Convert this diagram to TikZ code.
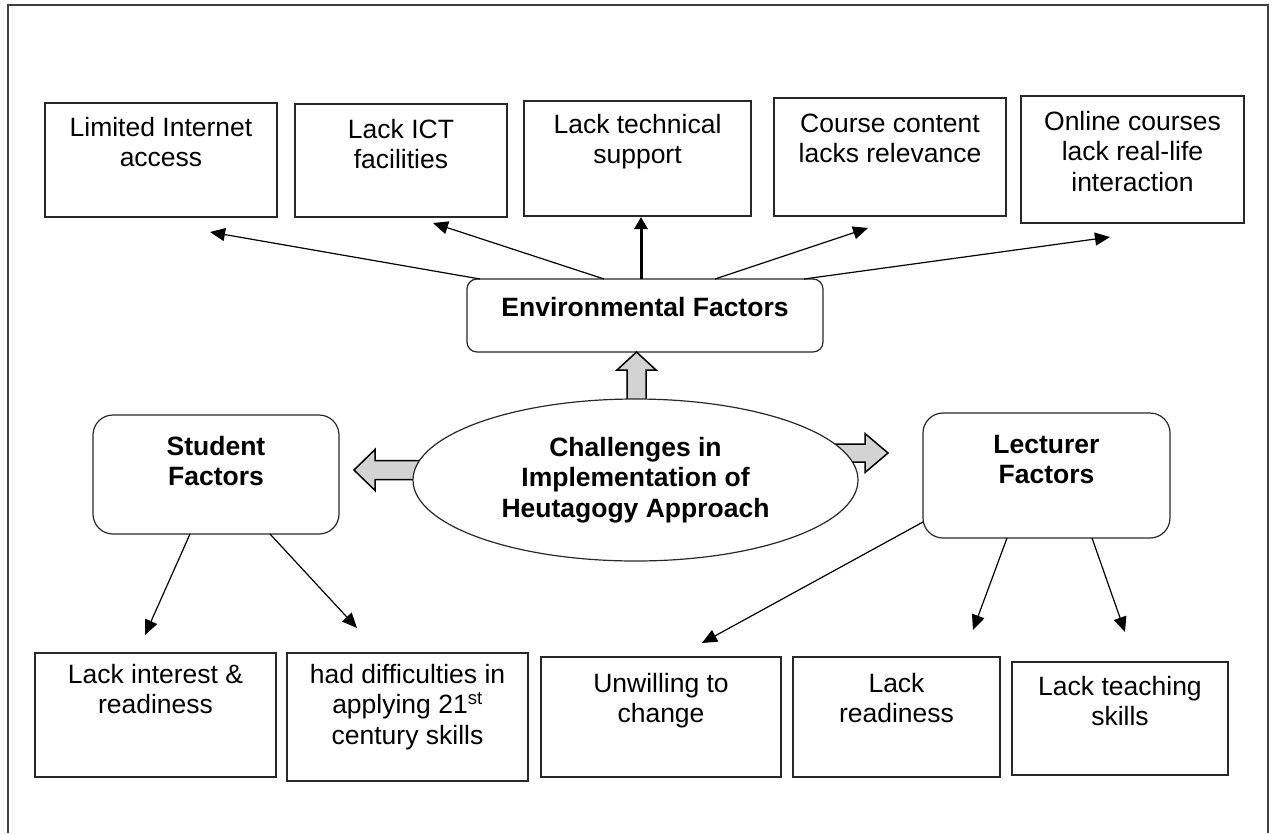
\documentclass[tikz,border=0pt]{standalone}
\usepackage{fontspec}
\setmainfont{Liberation Sans}
\usetikzlibrary{shapes.geometric,arrows.meta,calc}
\definecolor{arrowgray}{RGB}{211,211,211}
\definecolor{lineblk}{RGB}{40,40,40}
\newcommand{\bxt}[4]{\parbox[c][#2pt][t]{#1pt}{\centering\rule{0pt}{#3pt}#4\par}}
\begin{document}
\begin{tikzpicture}[x=1pt,y=-1pt,
  box/.style={draw=lineblk, line width=1.2pt, inner sep=0pt, outer sep=0pt, anchor=north west,
    font=\fontsize{26.5}{30.5}\selectfont},
  rbox/.style={box, rounded corners=20pt, font=\fontsize{26.5}{30.5}\selectfont\bfseries},
  conn/.style={draw=black, line width=1.2pt, -{Triangle[length=15pt,width=13pt]}},
  thickconn/.style={draw=black, line width=3pt, -{Triangle[length=12pt,width=13pt]}},
  blockarrow/.style={draw=black, line width=1.5pt, fill=arrowgray, line join=miter},
  frame/.style={draw=black!75, line width=1.5pt}]
\useasboundingbox (0,0) rectangle (1277,833);
\draw[frame] (8,833) -- (8,5) -- (1268,5) -- (1268,833);

% top boxes
\node[box] (t1) at (45,103) {\bxt{232}{114}{33}{Limited Internet\\access}};
\node[box] (t2) at (295,104) {\bxt{212}{113}{34}{Lack ICT\\facilities}};
\node[box] (t3) at (524,101) {\bxt{227}{115}{32}{Lack technical\\support}};
\node[box] (t4) at (774,98) {\bxt{232}{118}{34}{Course content\\lacks relevance}};
\node[box] (t5) at (1021,96) {\bxt{223}{127}{34}{Online courses\\lack real-life\\interaction}};

% factor boxes
\node[rbox, rounded corners=10pt] (env) at (467,279) {\bxt{356}{73}{37}{Environmental Factors}};
\node[rbox] (stu) at (93,415) {\bxt{246}{119}{40}{Student\\Factors}};
\node[rbox] (lec) at (923,413) {\bxt{247}{125}{40}{Lecturer\\Factors}};

% bottom boxes
\node[box] (b1) at (35,653) {\bxt{241}{124}{30}{Lack interest \&\\readiness}};
\node[box] (b2) at (287,653) {\bxt{241}{128}{30}{had difficulties in\\applying 21\textsuperscript{st}\\century skills}};
\node[box] (b3) at (541,657) {\bxt{240}{120}{35}{Unwilling to\\change}};
\node[box] (b4) at (793,657) {\bxt{207}{120}{35}{Lack\\readiness}};
\node[box] (b5) at (1012,662) {\bxt{216}{113}{33}{Lack teaching\\skills}};

% block arrows (drawn under the ellipse)
\draw[blockarrow] (627,410) -- (627,370) -- (617,370) -- (636.5,352) -- (656,370) -- (646,370) -- (646,410) -- cycle;
\draw[blockarrow] (440,460.5) -- (375,460.5) -- (375,449.5) -- (354,470) -- (375,490.5) -- (375,479.5) -- (440,479.5) -- cycle;
\draw[blockarrow] (820,444) -- (865,444) -- (865,433.5) -- (888,453) -- (865,472.5) -- (865,462) -- (820,462) -- cycle;

% central ellipse
\node[draw=lineblk, line width=1.2pt, fill=white, ellipse, minimum width=445pt, minimum height=162pt,
  inner sep=0pt, align=center, font=\fontsize{26.5}{30.5}\selectfont\bfseries] (ch) at (635.5,480)
  {Challenges in\\Implementation of\\Heutagogy Approach};

% free ends of connectors
\coordinate (e1) at (210,232);
\coordinate (e2) at (433,223);
\coordinate (e3) at (641,217);
\coordinate (e4) at (868,228);
\coordinate (e5) at (1110,237);
\coordinate (s1) at (145,635);
\coordinate (s2) at (357,628);
\coordinate (l1) at (702,643);
\coordinate (l2) at (973,630);
\coordinate (l3) at (1125,632);

\draw[conn] ([xshift=13pt]env.north west) -- (e1);
\draw[conn] ([xshift=137pt]env.north west) -- (e2);
\draw[thickconn] ([xshift=174pt]env.north west) -- (e3);
\draw[conn] ([xshift=248pt]env.north west) -- (e4);
\draw[conn] ([xshift=337pt]env.north west) -- (e5);

\draw[conn] ([xshift=97pt]stu.south west) -- (s1);
\draw[conn] ([xshift=177pt]stu.south west) -- (s2);

\draw[conn] ([yshift=16pt]lec.south west) -- (l1);
\draw[conn] ([xshift=84pt]lec.south west) -- (l2);
\draw[conn] ([xshift=169pt]lec.south west) -- (l3);
\end{tikzpicture}
\end{document}
